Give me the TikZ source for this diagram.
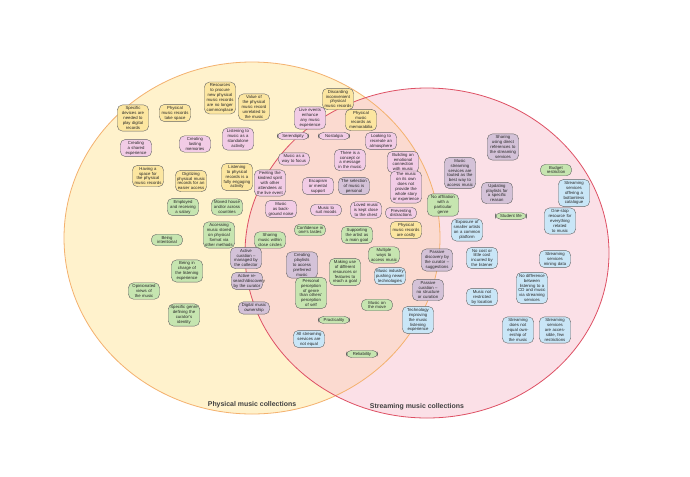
\documentclass[tikz,border=0pt]{standalone}
\usepackage{fontspec}
\setmainfont{Liberation Sans}
\begin{document}
\begin{tikzpicture}[x=0.75pt,y=-0.75pt,
 bx/.style={draw=black!60,line width=0.3pt,rounded corners=4pt,inner sep=1.3pt,align=center,text width=21pt,font=\fontsize{3.2}{3.7}\selectfont,text=black!85},
 Y/.style={bx,fill=yel},P/.style={bx,fill=pnk},G/.style={bx,fill=grn},U/.style={bx,fill=pur},B/.style={bx,fill=blu},
 ttl/.style={font=\fontsize{5.2}{6}\selectfont\bfseries,text=black!75}]
\definecolor{yel}{HTML}{FCE6A0}\definecolor{pnk}{HTML}{F2CCE6}\definecolor{grn}{HTML}{C6E5B0}
\definecolor{pur}{HTML}{D4C2D8}\definecolor{blu}{HTML}{C9E6F7}
\useasboundingbox (0,0) rectangle (690,476);
\fill[white] (0,0) rectangle (690,476);
\path[fill={rgb,255:red,255;green,242;blue,204}] (252,238) ellipse [x radius=188,y radius=176];
\path[fill={rgb,255:red,248;green,200;blue,212},fill opacity=0.55] (427,253) ellipse [x radius=182,y radius=165];
\draw[draw={rgb,255:red,244;green,177;blue,110},line width=0.6pt] (252,238) ellipse [x radius=188,y radius=176];
\draw[draw={rgb,255:red,222;green,80;blue,100},line width=0.6pt] (427,253) ellipse [x radius=182,y radius=165];
\node[ttl] (t1) at (252,405) {Physical music collections};
\node[ttl] (t2) at (417,407) {Streaming music collections};
% left
\node[Y] (n1) at (133,118) {Specific devices are needed to play digital records};
\node[Y] (n2) at (175,113) {Physical music records take space};
\node[Y] (n3) at (220,98) {Resources to procure new physical music records are no longer commonplace};
\node[Y] (n4) at (254,107) {Value of the physical music record unrelated to the music};
\node[P] (n5) at (136,148) {Creating a shared experience};
\node[P] (n6) at (195,144) {Creating lasting memories};
\node[P] (n7) at (238,139) {Listening to music as a standalone activity};
\node[Y] (n8) at (148,176) {Having a space for the physical music records};
\node[Y] (n9) at (191,181) {Digitizing physical music records for an easier access};
\node[Y] (n10) at (237,177) {Listening to physical records is a fully engaging activity};
\node[G] (n11) at (183,207) {Employed and receiving a salary};
\node[G] (n12) at (227,207) {Moved house and/or across countries};
\node[G] (n13) at (167,240) {Being intentional};
\node[G] (n14) at (219,235) {Accessing music stored on physical format via other methods};
\node[G] (n15) at (187,271) {Being in charge of the listening experience};
\node[U] (n16) at (246,258) {Active curation -- managed by the collector};
\node[U] (n17) at (247,281) {Active research/discovery by the curator};
\node[G] (n18) at (144,291) {Opinionated views of the music};
\node[G] (n19) at (184,315) {Specific genre defining the curator's identity};
\node[U] (n20) at (254,308) {Digital music ownership};
% middle
\node[Y] (n21) at (338,99) {Discarding inconvenient physical music records};
\node[P] (n22) at (310,118) {Live events enhance any music experience};
\node[Y] (n23) at (361,120) {Physical music records as memorabilia};
\node[P] (n24) at (293,136) {Serendipity};
\node[P] (n25) at (334,136) {Nostalgia};
\node[P] (n26) at (381,141) {Looking to recreate an atmosphere};
\node[P] (n27) at (294,159) {Music as a way to focus};
\node[P] (n28) at (350,160) {There is a concept or a message in the music};
\node[P] (n29) at (403,162) {Building an emotional connection with music};
\node[P] (n30) at (270,183) {Feeling the kindred spirit with other attendees at the live event};
\node[P] (n31) at (318,186) {Escapism or mental support};
\node[U] (n32) at (354,186) {The selection of music is personal};
\node[P] (n33) at (406,187) {The music on its own does not provide the whole story or experience};
\node[P] (n34) at (281,209) {Music as background noise};
\node[P] (n35) at (326,210) {Music to suit moods};
\node[P] (n36) at (366,210) {Loved music is kept close to the chest};
\node[P] (n37) at (401,213) {Preventing distractions};
\node[G] (n38) at (443,205) {No affiliation with a particular genre};
\node[U] (n39) at (460,173) {Music streaming services are touted as the best way to access music};
\node[G] (n40) at (310,230) {Confidence in one's tastes};
\node[G] (n41) at (357,235) {Supporting the artist as a main goal};
\node[Y] (n42) at (406,230) {Physical music records are costly};
\node[G] (n43) at (270,240) {Sharing music within close circles};
\node[U] (n44) at (302,265) {Creating playlists to access preferred music};
\node[G] (n45) at (345,272) {Making use of different resources or features to reach a goal};
\node[G] (n46) at (384,255) {Multiple ways to access music};
\node[B] (n47) at (390,276) {Music industry pushing newer technologies};
\node[U] (n48) at (437,260) {Passive discovery by the curator -- suggestions};
\node[U] (n49) at (428,290) {Passive curation -- no structure or curation};
\node[G] (n50) at (311,293) {Personal perception of genre than others' perception of self};
\node[G] (n51) at (377,305) {Music on the move};
\node[G] (n52) at (334,320) {Practicality};
\node[B] (n53) at (418,320) {Technology improving the music listening experience};
\node[B] (n54) at (309,339) {All streaming services are not equal};
\node[G] (n55) at (362,354) {Reliability};
% right
\node[U] (n56) at (503,147) {Sharing using direct references to the streaming services};
\node[G] (n57) at (556,170) {Budget restriction};
\node[U] (n58) at (497,193) {Updating playlists for a specific reason};
\node[B] (n59) at (574,193) {Streaming services offering a bottomless catalogue};
\node[G] (n60) at (511,216) {Student life};
\node[B] (n61) at (560,221) {One-stop resource for everything related to music};
\node[B] (n62) at (467,230) {Exposure of smaller artists on a common platform};
\node[B] (n63) at (482,258) {No cost or little cost incurred by the listener};
\node[B] (n64) at (555,259) {Streaming services mining data};
\node[B] (n65) at (482,297) {Music not restricted by location};
\node[B] (n66) at (532,288) {No difference between listening to a CD and music via streaming services};
\node[B] (n67) at (518,330) {Streaming does not equal ownership of the music};
\node[B] (n68) at (555,330) {Streaming services are accessible, few restrictions};
\end{tikzpicture}
\end{document}
